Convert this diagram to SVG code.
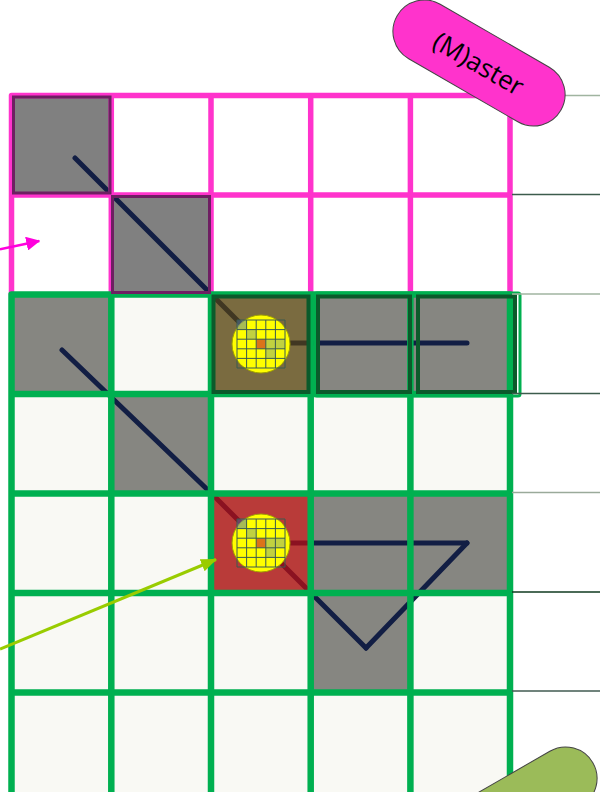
<svg xmlns="http://www.w3.org/2000/svg" width="600" height="792" viewBox="0 0 600 792">
<style>
.pk{fill:none;stroke:#ff33cc;stroke-width:5.5;stroke-linejoin:round}
.gn{fill:none;stroke:#00b050;stroke-width:6.5;stroke-linejoin:round}
.gz{fill:#868681}
.gp{fill:#808080}
.nv{fill:none;stroke:#121e44;stroke-width:5;stroke-linecap:round;stroke-linejoin:round}
.pb{fill:none;stroke:#6e1f62;stroke-width:3}
.db{fill:none;stroke:#0b5a2b;stroke-width:4}
.sl{stroke-width:1.3}
.mg{fill:none;stroke:#3a5a50;stroke-width:1}
.lbl{font-family:"Open Sans","DejaVu Sans",sans-serif;font-size:26px;fill:#000;text-anchor:middle;dominant-baseline:central}
</style>
<defs>
<g id="chip">
<circle r="29" fill="#ffff00" stroke="#a0a000" stroke-width="1"/>
<rect x="-24" y="-24" width="9.6" height="9.6" fill="rgba(80,120,170,0.5)"/>
<rect x="-14.4" y="-14.4" width="9.6" height="9.6" fill="rgba(100,140,160,0.4)"/>
<rect x="-4.8" y="-4.8" width="9.6" height="9.6" fill="rgba(200,40,40,0.65)"/>
<rect x="4.8" y="-4.8" width="9.6" height="9.6" fill="rgba(100,140,160,0.4)"/>
<rect x="14.4" y="-4.8" width="9.6" height="9.6" fill="rgba(100,140,160,0.4)"/>
<rect x="4.8" y="4.8" width="9.6" height="9.6" fill="rgba(100,140,160,0.4)"/>
<path class="mg" d="M-24 -24H24M-24 -14.4H24M-24 -4.8H24M-24 4.8H24M-24 14.4H24M-24 24H24M-24 -24V24M-14.4 -24V24M-4.8 -24V24M4.8 -24V24M14.4 -24V24M24 -24V24"/>
</g>
<marker id="ahP" viewBox="0 0 14 14" refX="13" refY="7" markerWidth="14" markerHeight="14" markerUnits="userSpaceOnUse" orient="auto"><path d="M0 0L14 7L0 14Z" fill="#ff00dd"/></marker>
<marker id="ahG" viewBox="0 0 16 13" refX="15" refY="6.5" markerWidth="16" markerHeight="13" markerUnits="userSpaceOnUse" orient="auto"><path d="M0 0L16 6.5L0 13Z" fill="#99cc00"/></marker>
</defs>
<rect width="600" height="792" fill="#ffffff"/>

<g id="grid-cells">
<rect x="11.5" y="294.5" width="498.5" height="497.5" fill="#f9f9f4"/>
<rect class="gp" x="12" y="96" width="99" height="99"/>
<rect class="gp" x="111" y="195" width="100" height="99"/>
<rect class="gz" x="11.5" y="294.5" width="100" height="99.5"/>
<rect class="gz" x="111" y="394" width="100" height="99.5"/>
<rect class="gz" x="211" y="294.5" width="100" height="99.5"/>
<rect class="gz" x="310.7" y="294.5" width="205" height="99.5"/>
<rect class="gz" x="211" y="493.5" width="299" height="99.5"/>
<rect class="gz" x="310.7" y="593" width="100" height="99.5"/>
</g>

<g id="connectors">
<path class="nv" d="M75 158L260 343L467 343"/>
<path class="nv" d="M62 350L212 494L366 648"/>
<path class="nv" d="M260 543L467 543"/>
<path class="nv" stroke="#00206a" d="M467 543L366 648"/>
</g>

<g id="overlays">
<rect x="211" y="294.5" width="100" height="99.5" fill="rgba(110,80,0,0.5)"/>
<rect x="211" y="493.5" width="100" height="99.5" fill="rgba(220,10,10,0.6)"/>
</g>

<g id="pink-grid">
<path class="pk" d="M11.5 294.5V95.5H510V294.5M11.5 195H510M111.3 95.5V294.5M211 95.5V294.5M310.7 95.5V294.5M410.4 95.5V294.5"/>
</g>
<g id="green-grid">
<path class="gn" d="M11.5 800V294.5H510V800M11.5 394H510M11.5 493.5H510M11.5 593H510M11.5 692.5H510M111.3 294.5V800M211 294.5V800M310.7 294.5V800M410.4 294.5V800"/>
<rect x="315" y="293" width="205" height="103" rx="2" fill="none" stroke="#00b050" stroke-width="3"/>
</g>

<g id="borders">
<rect class="pb" x="13.5" y="97" width="96.5" height="96"/>
<rect class="pb" x="112.5" y="196.5" width="97" height="96"/>
<rect class="db" x="213.5" y="296.5" width="95" height="95.5"/>
<rect class="db" x="318" y="296.5" width="92" height="95.5"/>
<rect class="db" x="418" y="296.5" width="97" height="95.5"/>
</g>

<g id="chip1"><use href="#chip" x="261" y="344"/></g>
<g id="chip2"><use href="#chip" x="261" y="543"/></g>

<g id="side-lines">
<line class="sl" x1="512" y1="95.5" x2="600" y2="95.5" stroke="#a0b4a0"/>
<line class="sl" x1="512" y1="194.5" x2="600" y2="194.5" stroke="#3c5c4c"/>
<line class="sl" x1="512" y1="294" x2="600" y2="294" stroke="#a0b4a0"/>
<line class="sl" x1="512" y1="393.5" x2="600" y2="393.5" stroke="#3c5c4c"/>
<line class="sl" x1="512" y1="492.5" x2="600" y2="492.5" stroke="#9aaa9a"/>
<line class="sl" x1="512" y1="592" x2="600" y2="592" stroke="#0f3a1f"/>
<line class="sl" x1="512" y1="691" x2="600" y2="691" stroke="#405a50"/>
</g>

<g id="arrows">
<line x1="0" y1="249.3" x2="39.3" y2="241" stroke="#ff00dd" stroke-width="2.5" marker-end="url(#ahP)"/>
<line x1="0" y1="649" x2="216" y2="559.5" stroke="#99cc00" stroke-width="3" marker-end="url(#ahG)"/>
</g>

<g id="master" transform="translate(479,63) rotate(30)">
<rect x="-94.5" y="-31.5" width="189" height="63" rx="31.5" fill="#ff33cc" stroke="#444444" stroke-width="1"/>
<text class="lbl" x="0" y="0">(M)aster</text>
</g>
<g id="green-pill" transform="translate(511,810) rotate(-30)">
<rect x="-94.5" y="-31.5" width="189" height="63" rx="31.5" fill="#9bbb59" stroke="#444444" stroke-width="1"/>
</g>
</svg>
